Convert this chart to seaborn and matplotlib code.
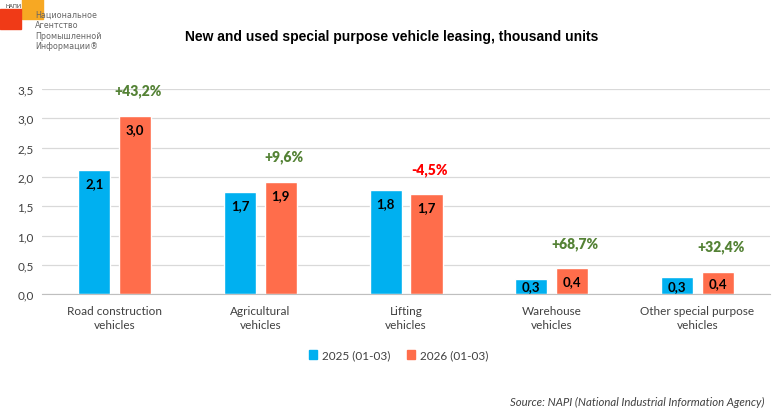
"""Special purpose vehicle leasing chart (NAPI style)."""

import matplotlib
import matplotlib.pyplot as plt
import matplotlib.patches as mpatches
import pandas as pd
import seaborn as sns

matplotlib.use("Agg")

CATEGORIES = [
    "Road construction\nvehicles",
    "Agricultural\nvehicles",
    "Lifting\nvehicles",
    "Warehouse\nvehicles",
    "Other special purpose\nvehicles",
]
PERIODS = ["2025 (01-03)", "2026 (01-03)"]
VALUES_2025 = [2.12, 1.74, 1.78, 0.26, 0.29]
VALUES_2026 = [3.04, 1.91, 1.70, 0.44, 0.385]
CHANGE_LABELS = ["+43,2%", "+9,6%", "-4,5%", "+68,7%", "+32,4%"]
Y_TICKS = [0.0, 0.5, 1.0, 1.5, 2.0, 2.5, 3.0, 3.5]

BLUE = "#00B0F0"
ORANGE = "#FF6D4B"
GREEN = "#548235"
RED = "#FF0000"
TEXT = "#404040"

df = pd.DataFrame(
    {
        "category": CATEGORIES * 2,
        "period": [PERIODS[0]] * len(CATEGORIES) + [PERIODS[1]] * len(CATEGORIES),
        "value": VALUES_2025 + VALUES_2026,
    }
)

sns.set_style("white")
plt.rcParams["font.family"] = ["Lato", "DejaVu Sans"]

fig = plt.figure(figsize=(7.78, 4.14), dpi=100)
ax = fig.add_axes([0.054, 0.287, 0.936, 0.496])

sns.barplot(
    data=df, x="category", y="value", hue="period",
    palette=[BLUE, ORANGE], width=0.56, gap=0.214,
    legend=False, ax=ax, saturation=1,
)

ax.set_ylim(0, 3.5)
ax.set_xlim(-0.5, len(CATEGORIES) - 0.5)
ax.set_yticks(Y_TICKS)
ax.set_yticklabels([f"{t:.1f}".replace(".", ",") for t in Y_TICKS],
                   fontsize=8.5, color=TEXT)
ax.yaxis.grid(True, color="#D9D9D9", linewidth=0.9)
ax.set_axisbelow(True)
ax.tick_params(axis="y", length=0, pad=6)
ax.set_xlabel("")
ax.set_ylabel("")

# category ticks on boundaries, labels centered
ax.set_xticks(range(len(CATEGORIES)))
ax.set_xticklabels(CATEGORIES, fontsize=8.5, color=TEXT, linespacing=1.35)
ax.tick_params(axis="x", length=0, pad=8)
ax.set_xticks([i - 0.5 for i in range(len(CATEGORIES) + 1)], minor=True)
ax.tick_params(axis="x", which="minor", length=5, color="#BFBFBF", direction="out")

for side in ["left", "right", "top"]:
    ax.spines[side].set_visible(False)
ax.spines["bottom"].set_color("#BFBFBF")

# value labels inside bar ends
px_per_unit = ax.bbox.height / 3.5
inset = 13 / px_per_unit
for container in ax.containers:
    for bar in container:
        h = bar.get_height()
        y = max(h - inset, h / 2)
        ax.text(bar.get_x() + bar.get_width() / 2, y,
                f"{h:.1f}".replace(".", ","), ha="center", va="center",
                fontsize=9.5, fontweight="bold", color="black")

# change labels above the 2026 bars
for bar, label in zip(ax.containers[1], CHANGE_LABELS):
    color = RED if label.startswith("-") else GREEN
    ax.annotate(label, (bar.get_x() + bar.get_width() / 2, bar.get_height()),
                xytext=(2, 18.5), textcoords="offset points",
                ha="center", va="center", fontsize=10, fontweight="heavy",
                color=color)

fig.text(0.504, 0.91, "New and used special purpose vehicle leasing, thousand units",
         ha="center", va="center", fontsize=10, fontweight="bold", color="black",
         family=["Liberation Sans", "DejaVu Sans"])

handles = [mpatches.Patch(color=BLUE, label=PERIODS[0]),
           mpatches.Patch(color=ORANGE, label=PERIODS[1])]
fig.legend(handles=handles, loc="center", bbox_to_anchor=(0.512, 0.14), ncol=2,
           frameon=False, fontsize=8.5, handlelength=0.7, handleheight=0.7,
           handletextpad=0.4, columnspacing=1.4, labelcolor=TEXT)

fig.text(0.983, 0.027, "Source: NAPI (National Industrial Information Agency)",
         ha="right", va="center", fontsize=8.2, style="italic", color=TEXT)

# logo
fig.patches.append(mpatches.Rectangle((22 / 778, 1 - 20 / 414), 21 / 778, 20 / 414,
                                      transform=fig.transFigure, color="#F7A823"))
fig.patches.append(mpatches.Rectangle((0, 1 - 30 / 414), 21 / 778, 20 / 414,
                                      transform=fig.transFigure, color="#F03A17"))
fig.text(5 / 778, 1 - 6 / 414, "НАПИ", fontsize=4, color="#333333", va="center")
fig.text(35 / 778, 1 - 31 / 414,
         "Национальное\nАгентство\nПромышленной\nИнформации®",
         fontsize=6.4, color="#666666", va="center", ha="left", linespacing=1.2,
         family=["DejaVu Sans"], fontstretch="condensed")

fig.savefig("out.png", dpi=100, facecolor="white")
